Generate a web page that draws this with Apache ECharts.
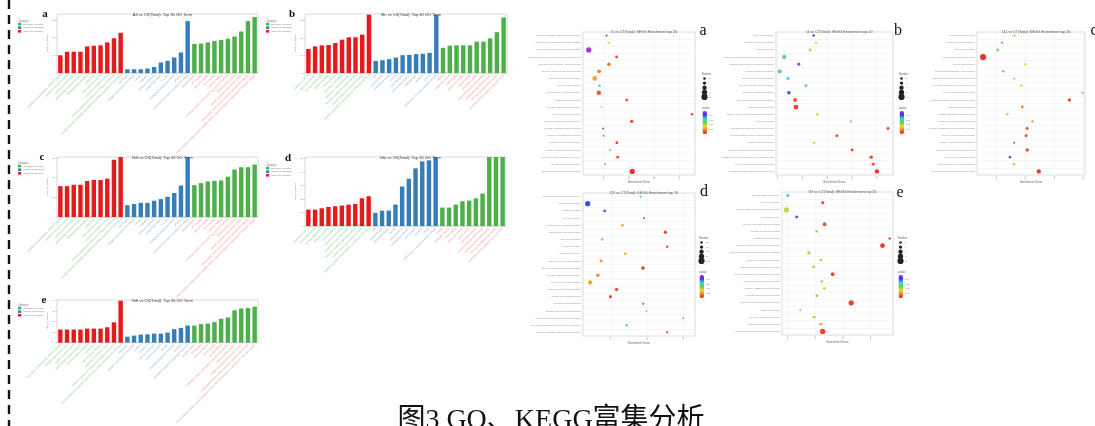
<!DOCTYPE html>
<html><head><meta charset="utf-8">
<script src="https://cdn.jsdelivr.net/npm/echarts@6/dist/echarts.min.js"></script>
<style>html,body{margin:0;padding:0;background:#fff}#c{width:1095px;height:426px}</style>
</head><body><div id="c"></div><script>
// ---------------- GO bar charts data ----------------
const goTerms1 = [
 "regulation of transcription, DNA-templated","oxidation-reduction process","protein phosphorylation",
 "carbohydrate metabolic process","transmembrane transport","proteolysis","lipid metabolic process",
 "response to oxidative stress","defense response to fungus, incompatible interaction",
 "cellular response to nitrogen starvation and positive regulation of autophagy",
 "membrane","integral component of membrane","nucleus","cytoplasm","plasma membrane",
 "extracellular region","cell wall","chloroplast thylakoid membrane","apoplast","anchored component of plasma membrane",
 "catalytic activity","ATP binding","metal ion binding","heme binding","iron ion binding",
 "hydrolase activity, hydrolyzing O-glycosyl compounds","oxidoreductase activity",
 "protein serine/threonine kinase activity","transcription factor activity, sequence-specific DNA binding",
 "oxidoreductase activity, acting on paired donors, with incorporation or reduction of molecular oxygen"];
const goTerms2 = [
 "response to stress","signal transduction","cell wall organization","defense response","photosynthesis",
 "response to wounding","response to water deprivation","hormone-mediated signaling pathway",
 "cellular amino acid metabolic process","positive regulation of transcription by RNA polymerase II",
 "cell","membrane part","extracellular space","vacuole","Golgi apparatus","endoplasmic reticulum",
 "mitochondrion","ribosome","cytosol","photosystem II oxygen evolving complex",
 "binding","transporter activity","DNA binding","calcium ion binding","kinase activity","peroxidase activity",
 "sequence-specific DNA binding","glutathione transferase activity","UDP-glycosyltransferase activity",
 "hydrolase activity, acting on glycosyl bonds"];
const barTitles = ["A4 vs CK(Total): Top 30 GO Term","Me vs CK(Total): Top 30 GO Term",
 "Ndl vs CK(Total): Top 30 GO Term","Idle vs CK(Total): Top 30 GO Term","Bdt vs CK(Total): Top 30 GO Term"];
const barTermsA = goTerms1, barTermsB = goTerms2, barTermsC = goTerms1, barTermsD = goTerms2, barTermsE = goTerms1;
const barA_bp = [10,12,12,12,15,15.4,15.6,17.3,19.6,22.7];
const barA_cc = [2.1,2.1,2.1,2.5,3.4,5.9,6.9,8.8,11.6,29.3];
const barA_mf = [16.4,16.6,17.3,18.1,18.7,19.4,20.6,23.4,29.3,31.6];
const barB_bp = [13.7,15.2,15.8,16,17.1,19,20.4,20.4,21.9,33.3];
const barB_cc = [6.9,7.3,7.9,8.8,10.2,10.4,10.8,11,11.5,33.3];
const barB_mf = [14.4,15.6,15.8,15.8,15.8,17.9,17.9,19.8,23.3,31.7];
const barC_bp = [15.7,15.7,16.4,16.4,18.3,18.8,18.8,19.5,29.1,30.5];
const barC_cc = [6,6.6,7.2,7.2,8.3,9.1,10.3,12.2,16,30.5];
const barC_mf = [16.2,17.2,18.1,18.4,18.6,20.5,24.1,25.3,25.3,26.6];
const barD_bp = [12.1,12.1,13.1,14.1,14.6,15.1,15.8,16.3,20.5,22];
const barD_cc = [9.7,11.4,11.4,15.8,29.2,34.9,42.6,47.8,48.5,51];
const barD_mf = [13.6,13.6,15.8,18.3,18.8,20.5,24,51,51,51];
const barE_bp = [12.5,12.5,12.5,12.5,13.4,13.4,13.4,14.6,19.4,40];
const barE_cc = [5.7,6.7,7.7,7.9,8.6,8.6,9.6,12.9,14.1,16.3];
const barE_mf = [16.3,17.7,18.2,19.6,22.8,24,30.9,32.6,33,34.3];
const barYMax = [33.3,33.7,30.5,51,40.7];
const categoryNames = ["biological_process","cellular_component","molecular_function"];

// ---------------- KEGG bubble charts data ----------------
const keggTitles = ["I1 vs CT(Total): KEGG Enrichment top 20","I4 vs CT(Total): KEGG Enrichment top 20",
 "L11 vs CT(Total): KEGG Enrichment top 20","I13 vs CT(Total): KEGG Enrichment top 20","I19 vs CT(Total): KEGG Enrichment top 20"];
const keggTermsA = ["ko04080: Neuroactive ligand-receptor interaction","ko04610: Complement and coagulation cascades",
 "ko04060: Cytokine-cytokine receptor interaction","ko00980: Metabolism of xenobiotics by cytochrome P450",
 "ko00982: Drug metabolism - cytochrome P450","ko04974: Protein digestion and absorption","ko04512: ECM-receptor interaction",
 "ko04510: Focal adhesion","ko04151: PI3K-Akt signaling pathway","ko00830: Retinol metabolism","ko04020: Calcium signaling pathway",
 "ko04972: Pancreatic secretion","ko00140: Steroid hormone biosynthesis","ko04062: Chemokine signaling pathway",
 "ko04640: Hematopoietic cell lineage","ko03320: PPAR signaling pathway","ko00590: Arachidonic acid metabolism",
 "ko04514: Cell adhesion molecules (CAMs)","ko04310: Wnt signaling pathway","ko05150: Staphylococcus aureus infection"];
const keggTermsB = ["ko04145: Phagosome","ko04115: p53 signaling pathway","ko04110: Cell cycle",
 "ko04672: Intestinal immune network for IgA production","ko04650: Natural killer cell mediated cytotoxicity",
 "ko00350: Tyrosine metabolism","ko04010: MAPK signaling pathway","ko04350: TGF-beta signaling pathway",
 "ko04024: cAMP signaling pathway","ko04022: cGMP-PKG signaling pathway","ko04970: Salivary secretion",
 "ko00260: Glycine, serine and threonine metabolism","ko04142: Lysosome","ko00982: Drug metabolism - cytochrome P450",
 "ko04060: Cytokine-cytokine receptor interaction","ko00830: Retinol metabolism","ko04610: Complement and coagulation cascades",
 "ko00980: Metabolism of xenobiotics by cytochrome P450","ko04974: Protein digestion and absorption",
 "ko04080: Neuroactive ligand-receptor interaction"];
const keggTermsC = ["ko04970: Salivary secretion","ko00910: Nitrogen metabolism","ko04146: Peroxisome",
 "ko04512: ECM-receptor interaction","ko04976: Bile secretion","ko00983: Drug metabolism - other enzymes",
 "ko00982: Drug metabolism - cytochrome P450","ko04923: Regulation of lipolysis in adipocytes",
 "ko04141: Protein processing in ER","ko04080: Neuroactive ligand-receptor interaction","ko00830: Retinol metabolism",
 "ko04062: Chemokine signaling pathway","ko00140: Steroid hormone biosynthesis","ko04610: Complement and coagulation cascades",
 "ko04640: Hematopoietic cell lineage","ko00590: Arachidonic acid metabolism","ko04974: Protein digestion and absorption",
 "ko04310: Wnt signaling pathway","ko04022: cGMP-PKG signaling pathway","ko04060: Cytokine-cytokine receptor interaction"];
const keggTermsD = ["ko04514: Cell adhesion molecules (CAMs)","ko04510: Focal adhesion","ko03010: Ribosome","ko04110: Cell cycle",
 "ko04151: PI3K-Akt signaling pathway","ko04512: ECM-receptor interaction","ko04145: Phagosome","ko04142: Lysosome",
 "ko04530: Tight junction","ko04010: MAPK signaling pathway","ko04974: Protein digestion and absorption",
 "ko04020: Calcium signaling pathway","ko04310: Wnt signaling pathway","ko00190: Oxidative phosphorylation",
 "ko04115: p53 signaling pathway","ko00830: Retinol metabolism","ko04350: TGF-beta signaling pathway",
 "ko04610: Complement and coagulation cascades","ko04672: Intestinal immune network for IgA production",
 "ko04080: Neuroactive ligand-receptor interaction"];
const keggTermsE = ["ko04972: Pancreatic secretion","ko04145: Phagosome","ko04650: Natural killer cell mediated cytotoxicity",
 "ko04110: Cell cycle","ko04062: Chemokine signaling pathway","ko04115: p53 signaling pathway","ko00830: Retinol metabolism",
 "ko04060: Cytokine-cytokine receptor interaction","ko04672: Intestinal immune network for IgA production",
 "ko04640: Hematopoietic cell lineage","ko04514: Cell adhesion molecules (CAMs)","ko04610: Complement and coagulation cascades",
 "ko00140: Steroid hormone biosynthesis","ko00590: Arachidonic acid metabolism","ko04020: Calcium signaling pathway",
 "ko04974: Protein digestion and absorption","ko04142: Lysosome","ko04310: Wnt signaling pathway",
 "ko04512: ECM-receptor interaction","ko04080: Neuroactive ligand-receptor interaction"];

const keggScoreA = [1.11,1.19,0.40,1.51,1.20,0.81,0.64,0.83,0.80,1.91,0.91,4.51,2.11,0.97,0.99,1.52,1.25,1.55,1.05,2.13];
const keggNumA   = [1,2,8,3,4,5,7,2,6,3,1,2,4,1,1,3,1,3,1,8];
const keggPA     = [0.045,0.018,0.048,0.004,0.006,0.008,0.012,0.032,0.004,0.005,0.020,0.003,0.003,0.040,0.036,0.003,0.025,0.004,0.030,0.001];
const keggScoreB = [2.45,2.55,2.31,1.26,1.85,1.08,1.41,2.14,1.45,1.70,1.74,2.61,3.96,5.46,3.39,2.47,4.01,4.78,4.86,5.01];
const keggNumB   = [2,2,2,6,3,6,4,3,4,5,7,2,1,3,3,2,3,4,3,6];
const keggPB     = [0.042,0.016,0.013,0.028,0.047,0.030,0.033,0.026,0.041,0.004,0.002,0.014,0.022,0.003,0.003,0.019,0.003,0.003,0.003,0.001];
const keggScoreC = [1.63,1.20,1.05,0.54,2.00,1.24,1.62,1.87,3.99,3.53,1.90,1.38,2.25,2.07,2.03,1.62,2.07,1.47,1.61,2.47];
const keggNumC   = [2,2,2,10,2,2,1,2,1,4,3,2,2,3,3,1,4,2,2,6];
const keggPC     = [0.015,0.025,0.026,0.001,0.017,0.024,0.030,0.018,0.035,0.003,0.009,0.020,0.012,0.004,0.004,0.040,0.004,0.046,0.021,0.001];
const keggScoreD = [1.83,0.36,0.83,1.92,1.32,2.51,0.76,2.56,1.40,0.73,1.89,0.64,0.43,1.16,0.99,1.90,1.99,3.00,1.44,2.56];
const keggNumD   = [10,80,30,15,20,40,25,20,20,35,45,40,60,40,35,15,5,5,20,15];
const keggPD     = [0.030,0.042,0.048,0.006,0.010,0.003,0.022,0.004,0.012,0.012,0.002,0.009,0.011,0.003,0.003,0.005,0.030,0.035,0.027,0.004];
const keggScoreE = [1.01,2.27,0.96,1.33,2.34,2.05,4.69,4.43,1.77,2.20,1.94,2.63,2.24,2.33,2.06,3.30,1.46,1.96,2.20,2.27];
const keggNumE   = [4,4,8,3,5,2,2,7,4,2,3,5,3,3,2,8,1,3,3,8];
const keggPE     = [0.033,0.004,0.020,0.047,0.004,0.022,0.003,0.002,0.020,0.022,0.020,0.003,0.019,0.018,0.025,0.002,0.030,0.021,0.012,0.002];
const keggMaxNum = [10,10,10,100,10];
const sizeLegendA = [2,4,6,8,10], sizeLegendB = [2,4,6,8,10], sizeLegendD = [20,40,60,80,100], sizeLegendE = [2,4,6,8,10];
const pLegendTicks = ["0.04","0.03","0.02","0.01"];

// ---------------- layout ----------------
const barGrids = [
 {left:57, top:14, width:201, height:59},
 {left:305, top:14, width:202, height:59},
 {left:57, top:157, width:201, height:60},
 {left:305, top:157, width:201, height:69},
 {left:57, top:300, width:201, height:60}];
const keggGrids = [
 {left:583, top:32, width:112, height:143},
 {left:776, top:32, width:117, height:143},
 {left:977, top:32, width:108, height:143},
 {left:583, top:193, width:112, height:143},
 {left:782, top:192, width:111, height:143}];
const keggXRange = [[0.17,4.63,5],[0.93,5.66,5],[0.33,4.07,5],[0.23,3.33,3],[0.8,4.81,5]];
const barLegendPos = [[18,20],[266,20],[18,162],[266,164],[18,304]];
const barLetters = [[45,14,'a'],[292,14,'b'],[42,157,'c'],[288,158,'d'],[44,300,'e']];
const keggLetters = [[703,31,'a'],[898,31,'b'],[1094,31,'c'],[704,192,'d'],[900,193,'e']];
const keggLegendPos = [[702,73,sizeLegendA,0],[899,73,sizeLegendB,1],[699,237,sizeLegendD,3],[898,237,sizeLegendE,4]];

const barColors = ['#e41a1c','#377eb8','#4daf4a'];
const legendColors = ['#4daf4a','#377eb8','#e41a1c'];
const labelColors = ['#86c986','#7eaad6','#ee8a8a'];
const rainbow = ['#e31a1c','#f47a20','#f2d23a','#5fd34a','#38d6d6','#2b3fe0','#c21fe0'];
const sizeOf = (n, maxN) => 1.6 + 4.6 * n / maxN;

const barSets = [
 [barTermsA, barA_bp, barA_cc, barA_mf],
 [barTermsB, barB_bp, barB_cc, barB_mf],
 [barTermsC, barC_bp, barC_cc, barC_mf],
 [barTermsD, barD_bp, barD_cc, barD_mf],
 [barTermsE, barE_bp, barE_cc, barE_mf]];
const keggSets = [
 [keggTermsA, keggScoreA, keggNumA, keggPA],
 [keggTermsB, keggScoreB, keggNumB, keggPB],
 [keggTermsC, keggScoreC, keggNumC, keggPC],
 [keggTermsD, keggScoreD, keggNumD, keggPD],
 [keggTermsE, keggScoreE, keggNumE, keggPE]];

const grid = [], xAxis = [], yAxis = [], series = [], title = [], legend = [], visualMap = [], graphic = [];
const tiny = {fontFamily:'Liberation Sans, Arial, sans-serif'};

function pad(vals, offset) {
  const out = [];
  for (let i = 0; i < 30; i++) out.push(i >= offset && i < offset + vals.length ? vals[i - offset] : '-');
  return out;
}

barSets.forEach((set, k) => {
  const g = barGrids[k];
  grid.push(Object.assign({show:true, borderColor:'#d0d0d0', borderWidth:0.8, backgroundColor:'#fff'}, g));
  xAxis.push({type:'category', gridIndex:k, data:set[0],
    axisLine:{lineStyle:{color:'#cfcfcf', width:0.6}},
    axisTick:{alignWithLabel:true, length:1.5, lineStyle:{color:'#aaa', width:0.5}},
    axisLabel:Object.assign({rotate:45, fontSize:2.5, interval:0, margin:2,
      color:(v, i) => labelColors[Math.floor(i / 10)]}, tiny)});
  yAxis.push({type:'value', gridIndex:k, min:0, max:barYMax[k], interval:10,
    name:'Num_of_Genes', nameLocation:'middle', nameGap:6,
    nameTextStyle:Object.assign({fontSize:2.5, color:'#888'}, tiny),
    axisLine:{show:false}, splitLine:{show:false},
    axisTick:{show:true, length:1.5, lineStyle:{color:'#aaa', width:0.5}},
    axisLabel:Object.assign({fontSize:2.5, color:'#888', margin:2, showMaxLabel:false}, tiny)});
  for (let c = 0; c < 3; c++) {
    series.push({type:'bar', name:categoryNames[c], xAxisIndex:k, yAxisIndex:k, stack:'s' + k,
      barWidth:'66%', itemStyle:{color:barColors[c]}, data:pad(set[c + 1], c * 10), animation:false});
  }
  title.push({text:barTitles[k], left:g.left + g.width / 2, top:g.top - 6, textAlign:'center',
    textStyle:Object.assign({fontSize:4, fontWeight:'normal', color:'#444'}, tiny)});
  const lp = barLegendPos[k];
  legend.push({left:lp[0], top:lp[1] + 2.8, orient:'vertical', padding:0, itemWidth:3.2, itemHeight:2.6, itemGap:1,
    icon:'rect', selectedMode:false,
    textStyle:Object.assign({fontSize:2.4, color:'#777', padding:[0,0,0,-3]}, tiny),
    data:categoryNames.map((n, i) => ({name:n, itemStyle:{color:legendColors[i]}}))});
  graphic.push({type:'text', left:lp[0], top:lp[1], silent:true,
    style:Object.assign({text:'Category', fontSize:2.6, fill:'#777'}, tiny)});
  const bl = barLetters[k];
  graphic.push({type:'text', x:bl[0], y:bl[1], silent:true,
    style:{text:bl[2], fontSize:11, fontWeight:'bold', fontFamily:'Liberation Serif, serif', fill:'#111',
      textAlign:'center', textVerticalAlign:'middle'}});
});

keggSets.forEach((set, k) => {
  const gi = 5 + k, g = keggGrids[k], xr = keggXRange[k];
  grid.push(Object.assign({show:true, borderColor:'#c4c4c4', borderWidth:0.6, backgroundColor:'#fff'}, g));
  xAxis.push({type:'value', gridIndex:gi, min:xr[0], max:xr[1], splitNumber:xr[2],
    name:'Enrichment Score', nameLocation:'middle', nameGap:6,
    nameTextStyle:Object.assign({fontSize:2.8, color:'#666'}, tiny),
    axisLine:{show:false}, axisTick:{length:1.5, lineStyle:{color:'#999', width:0.5}},
    splitLine:{lineStyle:{color:'#ececec', width:0.5}},
    axisLabel:Object.assign({fontSize:2.6, color:'#777', margin:2, showMinLabel:false, showMaxLabel:false}, tiny)});
  yAxis.push({type:'category', gridIndex:gi, data:set[0], inverse:true,
    axisLine:{show:false}, axisTick:{show:false},
    splitLine:{show:true, lineStyle:{color:'#ececec', width:0.5}},
    axisLabel:Object.assign({fontSize:2.1, color:'#8a8a8a', interval:0, margin:2}, tiny)});
  const maxN = keggMaxNum[k];
  series.push({type:'scatter', xAxisIndex:gi, yAxisIndex:gi, animation:false,
    data:set[1].map((s, i) => [s, set[0][i], set[2][i], set[3][i]]),
    symbolSize:(v) => sizeOf(v[2], maxN), itemStyle:{opacity:0.92}});
  const sIdx = series.length - 1;
  visualMap.push({type:'continuous', seriesIndex:sIdx, dimension:3, min:0, max:0.05,
    inRange:{color:rainbow}, show:false});
  title.push({text:keggTitles[k], left:g.left + g.width / 2, top:g.top - 7, textAlign:'center',
    textStyle:Object.assign({fontSize:3.6, fontWeight:'normal', color:'#555'}, tiny)});
  const kl = keggLetters[k];
  graphic.push({type:'text', x:kl[0], y:kl[1], silent:true,
    style:{text:kl[2], fontSize:16, fontFamily:'Liberation Serif, serif', fill:'#111',
      textAlign:'center', textVerticalAlign:'middle'}});
});

// KEGG legends (Number sizes + pvalue colorbar)
keggLegendPos.forEach(([lx, ly, nums, k]) => {
  graphic.push({type:'text', left:lx, top:ly, silent:true,
    style:Object.assign({text:'Number', fontSize:2.6, fill:'#666'}, tiny)});
  nums.forEach((n, i) => {
    const cy = ly + 5.5 + i * 4.6;
    graphic.push({type:'circle', silent:true, shape:{cx:lx + 2.5, cy:cy, r:sizeOf(n, keggMaxNum[k]) / 2},
      style:{fill:'#222'}});
    graphic.push({type:'text', silent:true, x:lx + 7, y:cy,
      style:Object.assign({text:String(n), fontSize:2.4, fill:'#777', textVerticalAlign:'middle'}, tiny)});
  });
  graphic.push({type:'text', left:lx, top:ly + 34, silent:true,
    style:Object.assign({text:'pvalue', fontSize:2.6, fill:'#666'}, tiny)});
  visualMap.push({type:'continuous', seriesIndex:[], min:0, max:0.05, inRange:{color:rainbow},
    left:lx + 0.5, top:ly + 38, itemWidth:4.5, itemHeight:23, padding:0, text:null,
    calculable:false, hoverLink:false, showLabel:false});
  pLegendTicks.forEach((t, i) => {
    graphic.push({type:'text', silent:true, x:lx + 7, y:ly + 38 + (i + 1) * 23 / 5,
      style:Object.assign({text:t, fontSize:2.2, fill:'#777', textVerticalAlign:'middle'}, tiny)});
  });
});

// page decorations: dashed frame line and caption
graphic.push({type:'line', silent:true, shape:{x1:9, y1:0, x2:9, y2:426},
  style:{stroke:'#111', lineWidth:2.4, lineDash:[9, 6]}});
graphic.push({type:'text', silent:true, x:551, y:407,
  style:{text:'图3 GO、KEGG富集分析', fontSize:28, fill:'#111',
    fontFamily:'"Liberation Serif", "Noto Sans CJK SC", serif', textAlign:'center', textVerticalAlign:'top'}});

const chart = echarts.init(document.getElementById('c'), null, {renderer:'canvas'});
chart.setOption({animation:false, backgroundColor:'#fff', grid, xAxis, yAxis, series, title, legend, visualMap, graphic,
  tooltip:{show:false}});
</script></body></html>
